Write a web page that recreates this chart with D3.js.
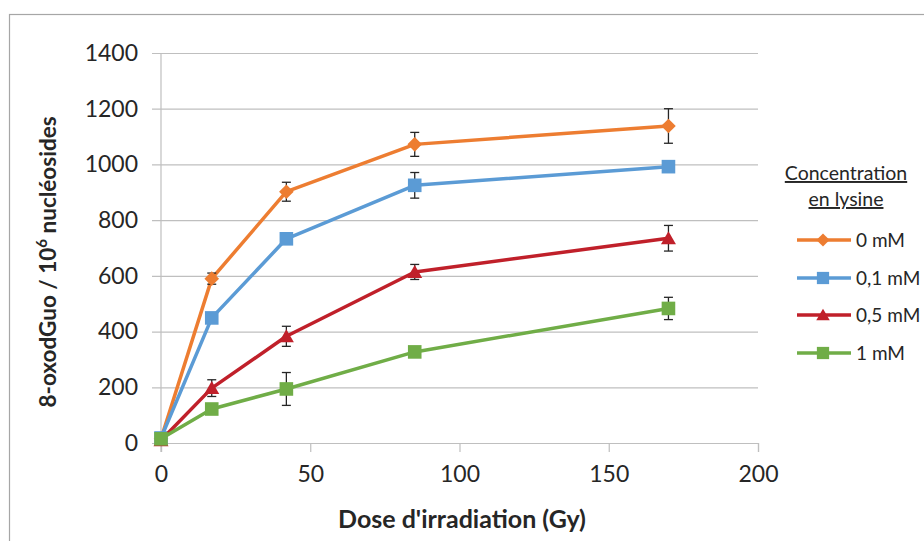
<!DOCTYPE html>
<html>
<head>
<meta charset="utf-8">
<script src="https://cdn.jsdelivr.net/npm/d3@7"></script>
<style>
  body { margin: 0; background: #fff; }
  svg { display: block; font-family: Lato, "Open Sans", sans-serif; }
</style>
</head>
<body>
<svg id="chart" width="924" height="541"></svg>
<script>
const doses = [0, 17, 42, 85, 170];
const seriesNames = ["0 mM", "0,1 mM", "0,5 mM", "1 mM"];
const values0 = [15, 590, 902, 1072, 1138];
const errors0 = [0, 20, 34, 43, 62];
const values01 = [18, 449, 733, 925, 992];
const errors01 = [0, 0, 10, 46, 15];
const values05 = [10, 197, 383, 614, 735];
const errors05 = [0, 30, 36, 27, 46];
const values1 = [15, 122, 194, 327, 483];
const errors1 = [0, 8, 59, 10, 40];
const xTicks = [0, 50, 100, 150, 200];
const yTicks = [0, 200, 400, 600, 800, 1000, 1200, 1400];
const colors = ["#ED7D31", "#5B9BD5", "#C0202A", "#70AD47"];
const shapes = ["diamond", "square", "triangle", "square"];

const series = seriesNames.map((name, i) => ({
  name,
  color: colors[i],
  shape: shapes[i],
  values: [values0, values01, values05, values1][i],
  errors: [errors0, errors01, errors05, errors1][i]
}));

const svg = d3.select("#chart");
const x = d3.scaleLinear().domain([0, 200]).range([161, 758]);
const y = d3.scaleLinear().domain([0, 1400]).range([443, 53]);

// outer frame
svg.append("rect").attr("x", 9.5).attr("y", 14.5).attr("width", 940).attr("height", 560)
  .attr("fill", "none").attr("stroke", "#A6A6A6").attr("stroke-width", 1.2);

const gridColor = "#BFBFBF";
const yAxis = d3.axisLeft(y).tickValues(yTicks).tickSize(-(758 - 152)).tickPadding(14)
  .tickFormat(d3.format("d"));
const gy = svg.append("g").attr("transform", "translate(152,0)").call(yAxis);
gy.select(".domain").remove();
gy.selectAll(".tick line").attr("stroke", gridColor).attr("stroke-width", 1.2);
gy.selectAll(".tick text").attr("font-size", 23).attr("fill", "#262626")
  .attr("font-family", "Lato, sans-serif");

svg.append("line").attr("x1", x(0)).attr("x2", x(0)).attr("y1", y(1400)).attr("y2", 452)
  .attr("stroke", gridColor).attr("stroke-width", 1.2);

const xAxis = d3.axisBottom(x).tickValues(xTicks).tickSize(9).tickPadding(14)
  .tickFormat(d3.format("d"));
const gx = svg.append("g").attr("transform", `translate(0,${y(0)})`).call(xAxis);
gx.select(".domain").attr("stroke", gridColor).attr("stroke-width", 1.2);
gx.selectAll(".tick line").attr("stroke", gridColor).attr("stroke-width", 1.2);
gx.selectAll(".tick text").attr("font-size", 23).attr("fill", "#262626")
  .attr("font-family", "Lato, sans-serif");

const line = d3.line().x((d, i) => x(doses[i])).y(d => y(d));

function drawMarker(g, shape, cx, cy, color, scale) {
  const s = scale || 1;
  if (shape === "diamond") {
    const r = 7.3 * s;
    g.append("path").attr("d", `M${cx},${cy - r}L${cx + r},${cy}L${cx},${cy + r}L${cx - r},${cy}Z`).attr("fill", color);
  } else if (shape === "square") {
    const h = 6.8 * s;
    g.append("rect").attr("x", cx - h).attr("y", cy - h).attr("width", 2 * h).attr("height", 2 * h).attr("fill", color);
  } else {
    const w = 7.5 * s, hh = 7 * s;
    g.append("path").attr("d", `M${cx},${cy - hh}L${cx + w},${cy + hh * 0.85}L${cx - w},${cy + hh * 0.85}Z`).attr("fill", color);
  }
}

series.forEach(s => {
  const g = svg.append("g");
  g.append("path").datum(s.values).attr("d", line).attr("fill", "none")
    .attr("stroke", s.color).attr("stroke-width", 3.5).attr("stroke-linejoin", "round");
  s.values.forEach((v, i) => {
    const e = s.errors[i];
    if (!e) return;
    const cx = x(doses[i]);
    const eg = g.append("g").attr("stroke", "#262626").attr("stroke-width", 1.3);
    eg.append("line").attr("x1", cx).attr("x2", cx).attr("y1", y(v + e)).attr("y2", y(v - e));
    eg.append("line").attr("x1", cx - 4.5).attr("x2", cx + 4.5).attr("y1", y(v + e)).attr("y2", y(v + e));
    eg.append("line").attr("x1", cx - 4.5).attr("x2", cx + 4.5).attr("y1", y(v - e)).attr("y2", y(v - e));
  });
  s.values.forEach((v, i) => drawMarker(g, s.shape, x(doses[i]), y(v), s.color));
});

// axis titles
svg.append("text").attr("x", 462).attr("y", 528).attr("text-anchor", "middle")
  .attr("font-size", 25).attr("font-weight", "bold").attr("fill", "#262626")
  .text("Dose d'irradiation (Gy)");

const yt = svg.append("text").attr("transform", "translate(56,262) rotate(-90)")
  .attr("text-anchor", "middle").attr("font-size", 22.5).attr("font-weight", "bold").attr("fill", "#262626");
yt.append("tspan").text("8-oxodGuo  / 10");
yt.append("tspan").attr("dy", -9).attr("font-size", 15).text("6");
yt.append("tspan").attr("dy", 9).text(" nucléosides");

// legend
const lg = svg.append("g");
lg.append("text").attr("x", 846).attr("y", 180).attr("text-anchor", "middle")
  .attr("font-size", 19.5).attr("fill", "#262626").attr("text-decoration", "underline").text("Concentration");
lg.append("text").attr("x", 846).attr("y", 206).attr("text-anchor", "middle")
  .attr("font-size", 19.5).attr("fill", "#262626").attr("text-decoration", "underline").text("en lysine");
const legendY = [240, 278, 315, 353];
series.forEach((s, i) => {
  const ly = legendY[i];
  lg.append("line").attr("x1", 797).attr("x2", 851).attr("y1", ly).attr("y2", ly)
    .attr("stroke", s.color).attr("stroke-width", 3.5);
  drawMarker(lg, s.shape, 823, ly, s.color, 0.9);
  lg.append("text").attr("x", 856).attr("y", ly).attr("dy", "0.35em")
    .attr("font-size", 19).attr("fill", "#262626").text(s.name);
});
</script>
</body>
</html>
